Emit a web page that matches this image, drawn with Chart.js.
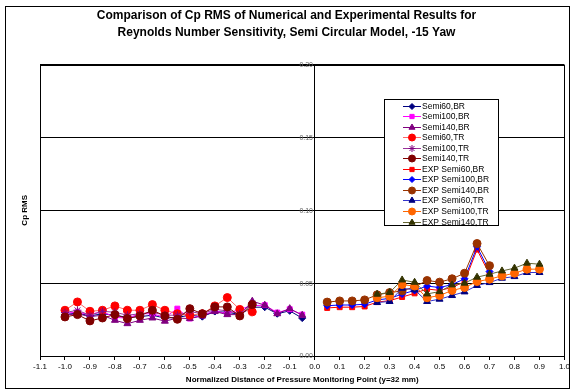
<!DOCTYPE html>
<html>
<head>
<meta charset="utf-8">
<script src="https://cdn.jsdelivr.net/npm/chart.js@4.4.1/dist/chart.umd.min.js"></script>
<style>
  html, body { margin: 0; padding: 0; background: #fff; }
  canvas { display: block; }
</style>
</head>
<body>
<canvas id="cpChart" width="572" height="391"></canvas>
<script>
    // x positions (normalized distance of monitoring points)
    const xNum   = [-1.00,-0.95,-0.90,-0.85,-0.80,-0.75,-0.70,-0.65,-0.60,-0.55,-0.50,-0.45,-0.40,-0.35,-0.30,-0.25,-0.20,-0.15,-0.10,-0.05];
    const xExpBR = [0.05,0.10,0.15,0.20,0.25,0.30,0.35,0.40,0.45,0.50,0.55,0.60,0.65,0.70];
    const xExpTR = [0.25,0.30,0.35,0.40,0.45,0.50,0.55,0.60,0.65,0.70,0.75,0.80,0.85,0.90];

    // numerical results (Cp RMS)
    const semi60BR  = [0.0285,0.0295,0.0275,0.0290,0.0280,0.0265,0.0270,0.0280,0.0260,0.0265,0.0280,0.0270,0.0305,0.0300,0.0285,0.0335,0.0335,0.0290,0.0310,0.0260];
    const semi100BR = [0.0295,0.0300,0.0285,0.0305,0.0265,0.0260,0.0290,0.0290,0.0265,0.0325,0.0257,0.0280,0.0310,0.0290,0.0321,0.0345,0.0349,0.0298,0.0321,0.0284];
    const semi140BR = [0.0280,0.0290,0.0270,0.0280,0.0245,0.0222,0.0245,0.0261,0.0239,0.0260,0.0257,0.0275,0.0305,0.0284,0.0284,0.0376,0.0349,0.0290,0.0325,0.0280];
    const semi60TR  = [0.0314,0.0371,0.0307,0.0314,0.0344,0.0314,0.0314,0.0353,0.0314,0.0290,0.0280,0.0290,0.0344,0.0401,0.0320,0.0303];
    const semi100TR = [0.0298,0.0314,0.0280,0.0307,0.0300,0.0280,0.0290,0.0300,0.0280,0.0280,0.0305,0.0290,0.0320,0.0310,0.0290,0.0360];
    const semi140TR = [0.0268,0.0284,0.0241,0.0261,0.0284,0.0257,0.0275,0.0314,0.0275,0.0252,0.0325,0.0290,0.0337,0.0337,0.0275,0.0353];

    // experimental results (Cp RMS)
    const expSemi60BR  = [0.0330,0.0335,0.0335,0.0340,0.0370,0.0380,0.0405,0.0430,0.0460,0.0450,0.0470,0.0510,0.0730,0.0560];
    const expSemi100BR = [0.0345,0.0350,0.0350,0.0355,0.0385,0.0395,0.0425,0.0450,0.0480,0.0470,0.0490,0.0530,0.0750,0.0580];
    const expSemi140BR = [0.0370,0.0378,0.0378,0.0385,0.0420,0.0435,0.0447,0.0475,0.0518,0.0507,0.0530,0.0568,0.0772,0.0620];
    const expSemi60TR  = [0.0367,0.0374,0.0465,0.0454,0.0374,0.0390,0.0415,0.0440,0.0484,0.0504,0.0534,0.0545,0.0573,0.0573];
    const expSemi100TR = [0.0400,0.0410,0.0490,0.0480,0.0400,0.0415,0.0450,0.0470,0.0511,0.0527,0.0550,0.0568,0.0596,0.0596];
    const expSemi140TR = [0.0424,0.0436,0.0522,0.0506,0.0426,0.0442,0.0488,0.0500,0.0541,0.0561,0.0584,0.0603,0.0637,0.0630];

    const seriesNames = ["Semi60,BR","Semi100,BR","Semi140,BR","Semi60,TR","Semi100,TR","Semi140,TR",
                         "EXP Semi60,BR","EXP Semi100,BR","EXP Semi140,BR","EXP Semi60,TR","EXP Semi100,TR","EXP Semi140,TR"];
    const seriesValues = [semi60BR,semi100BR,semi140BR,semi60TR,semi100TR,semi140TR,
                          expSemi60BR,expSemi100BR,expSemi140BR,expSemi60TR,expSemi100TR,expSemi140TR];
    const seriesX = [xNum,xNum,xNum,xNum,xNum,xNum,xExpBR,xExpBR,xExpBR,xExpTR,xExpTR,xExpTR];

    // styles
    const lineColors   = ["#000080","#FF00FF","#800080","#FF6666","#993399","#800000",
                          "#FF0000","#0000FF","#993300","#3333CC","#FF6600","#666633"];
    const markerColors = ["#000080","#FF00FF","#800080","#FF0000","#800080","#800000",
                          "#FF0000","#0000FF","#993300","#000080","#FF6600","#333300"];
    const markerStyles = ["rectRot","rect","triangle","circle","star","circle",
                          "rect","rectRot","circle","triangle","circle","triangle"];
    const markerSizes  = [3.5,3.5,4,4,4,4,3.5,3.5,4,4,4,4];

    const fontFamily = '"Liberation Sans", Arial, sans-serif';

    let datasets = seriesValues.map((vals, i) => ({
        label: seriesNames[i],
        data: vals.map((v, j) => ({x: seriesX[i][j], y: v})),
        borderColor: lineColors[i],
        borderWidth: 1,
        backgroundColor: markerColors[i],
        pointStyle: markerStyles[i],
        pointRadius: markerSizes[i],
        pointBorderColor: markerColors[i],
        pointBackgroundColor: markerColors[i],
        pointBorderWidth: 1,
        showLine: true,
        tension: 0,
        order: seriesNames.length - i   // later series drawn on top
    }));

    // plot frame, outer frame and the y tick labels next to the centre axis
    let framePlugin = {
        id: "framePlugin",
        afterDraw(chart) {
            const ctx = chart.ctx;
            const a = chart.chartArea;
            const yScale = chart.scales.y;
            const x0 = Math.round(chart.scales.x.getPixelForValue(0));
            ctx.save();
            ctx.strokeStyle = "#000";
            ctx.lineWidth = 1;
            ctx.strokeRect(Math.round(a.left) + 0.5, Math.round(a.top) + 0.5,
                           Math.round(a.right - a.left), Math.round(a.bottom - a.top));
            ctx.strokeRect(5.5, 6.5, 564, 382);

            ctx.font = "7px " + fontFamily;
            ctx.fillStyle = "#666";
            ctx.textAlign = "right";
            ctx.textBaseline = "middle";
            yScale.ticks.forEach(t => {
                ctx.fillText(t.value.toFixed(2), x0 - 2, yScale.getPixelForValue(t.value) + 0.5);
            });
            ctx.restore();
        }
    };

    // legend box inside the plot
    let legendBox = {
        id: "legendBox",
        afterDraw(chart) {
            const ctx = chart.ctx;
            const left = 384.5, top = 99.5, w = 114, h = 126;
            ctx.save();
            ctx.fillStyle = "#fff";
            ctx.fillRect(left, top, w, h);
            ctx.strokeStyle = "#000";
            ctx.lineWidth = 1;
            ctx.strokeRect(left, top, w, h);
            ctx.font = "8.5px " + fontFamily;
            ctx.textBaseline = "middle";
            ctx.textAlign = "left";
            chart.data.datasets.forEach((ds, i) => {
                const y = Math.round(top + 6 + i * 10.55) + 0.5;
                ctx.strokeStyle = ds.borderColor;
                ctx.beginPath();
                ctx.moveTo(403, y);
                ctx.lineTo(421, y);
                ctx.stroke();
                ctx.fillStyle = ds.pointBackgroundColor;
                ctx.strokeStyle = ds.pointBorderColor;
                Chart.helpers.drawPoint(ctx, {
                    pointStyle: ds.pointStyle,
                    radius: ds.pointRadius - 0.5,
                    rotation: 0,
                    borderWidth: 1
                }, 412, y);
                ctx.fillStyle = "#000";
                ctx.fillText(ds.label, 422, y);
            });
            ctx.restore();
        }
    };

    const ctx = document.getElementById("cpChart");
    let cpChart = new Chart(ctx, {
        type: "scatter",
        data: { datasets: datasets },
        plugins: [framePlugin, legendBox],
        options: {
            responsive: false,
            animation: false,
            devicePixelRatio: 1,
            layout: { padding: { left: 6, right: 5, top: 7, bottom: 4 } },
            plugins: {
                legend: { display: false },
                tooltip: { enabled: false },
                title: {
                    display: true,
                    text: ["Comparison of Cp RMS of Numerical and Experimental Results for",
                           "Reynolds Number Sensitivity, Semi Circular Model, -15 Yaw"],
                    color: "#000",
                    font: { family: fontFamily, size: 12, weight: "bold", lineHeight: 1.4 },
                    padding: { top: 0, bottom: 24 }
                }
            },
            scales: {
                x: {
                    type: "linear",
                    min: -1.1,
                    max: 1.0,
                    afterFit: (scale) => { scale.height = 31; },
                    ticks: {
                        stepSize: 0.1,
                        color: "#000",
                        padding: 2,
                        maxRotation: 0,
                        autoSkip: false,
                        font: { family: fontFamily, size: 8 },
                        callback: (v) => (Math.abs(v) < 1e-9 ? 0 : v).toFixed(1)
                    },
                    grid: { drawOnChartArea: false, tickColor: "#000", tickLength: 4 },
                    border: { color: "#000", width: 1 },
                    title: {
                        display: true,
                        text: "Normalized Distance of Pressure Monitoring Point (y=32 mm)",
                        color: "#000",
                        font: { family: fontFamily, size: 8, weight: "bold" },
                        padding: { top: 0, bottom: 2 }
                    }
                },
                y: {
                    type: "linear",
                    position: { x: 0 },
                    min: 0,
                    max: 0.2,
                    ticks: {
                        stepSize: 0.05,
                        display: false
                    },
                    grid: { color: "#000", lineWidth: 1, tickLength: 3 },
                    border: { color: "#000", width: 1 }
                },
                yTitle: {
                    type: "linear",
                    position: "left",
                    afterFit: (scale) => { scale.width = 34; },
                    ticks: { display: false },
                    grid: { display: false },
                    border: { display: false },
                    title: {
                        display: true,
                        text: "Cp RMS",
                        color: "#000",
                        font: { family: fontFamily, size: 8, weight: "bold" },
                        padding: { top: 14, bottom: 0 }
                    }
                }
            }
        }
    });
</script>
</body>
</html>
